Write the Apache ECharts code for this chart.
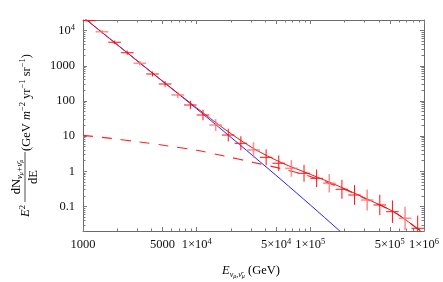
<!DOCTYPE html>
<html><head><meta charset="utf-8">
<script src="https://cdn.jsdelivr.net/npm/echarts@6/dist/echarts.min.js"></script>
<style>html,body{margin:0;padding:0;background:#fff}#c{width:443px;height:282px}</style>
</head><body><div id="c"></div>
<script>
// ---- data ----
const binEdges = [1000, 1292, 1668, 2154, 2783, 3594, 4642, 5995, 7743, 10000, 12915, 16681, 21544, 27826, 35938, 46416, 59948, 77426, 100000, 129155, 166810, 215443, 278256, 359381, 464159, 599484, 774264, 1000000];
const crossFlux = [19100, 9290, 4650, 2350, 1175, 583, 303, 148, 76.6, 39.8, 20.7, 10.7, 6.24, 4.03, 2.49, 1.69, 1.21, 0.875, 0.631, 0.455, 0.307, 0.211, 0.152, 0.110, 0.0708, 0.046, 0.0239];
const crossErrDex = [0.04, 0.045, 0.05, 0.06, 0.065, 0.07, 0.08, 0.09, 0.12, 0.15, 0.17, 0.18, 0.2, 0.22, 0.23, 0.22, 0.24, 0.24, 0.25, 0.26, 0.27, 0.28, 0.30, 0.29, 0.32, 0.33, 0.36];
const pinkBins = [1, 4, 7, 10, 13, 16, 19, 22, 25];

const lineEnergy = [1000, 1778, 3162, 5623, 10000, 17783, 31623, 56234, 100000, 177828, 316228, 562341, 1000000];
const convFlux   = [24270, 5400, 1202, 268, 59.7, 12.7, 2.67, 0.551, 0.110, 0.0212, 0.0040, 0.0008, 0.00015];
const promptFlux = [10.5, 8.6, 6.76, 5.25, 3.94, 2.69, 1.78, 1.175, 0.708, 0.355, 0.158, 0.0646, 0.0166];
const totalFlux  = [24280, 5409, 1209, 273, 63.6, 15.4, 4.45, 1.73, 0.818, 0.376, 0.162, 0.0654, 0.0166];

const xMajorTicks = [1000, 5000, 10000, 50000, 100000, 500000, 1000000];
const xTickLabels = ['1000', '5000', '1×10^4', '5×10^4', '1×10^5', '5×10^5', '1×10^6'];
const xMinorTicks = [2000, 3000, 4000, 6000, 7000, 8000, 9000, 20000, 30000, 40000, 60000, 70000, 80000, 90000, 200000, 300000, 400000, 600000, 700000, 800000, 900000];
const yMajorTicks = [0.1, 1, 10, 100, 1000, 10000];
const yTickLabels = ['0.1', '1', '10', '100', '1000', '10^4'];
const yMinorTicks = [0.02, 0.03, 0.04, 0.05, 0.06, 0.07, 0.08, 0.09, 0.2, 0.3, 0.4, 0.5, 0.6, 0.7, 0.8, 0.9, 2, 3, 4, 5, 6, 7, 8, 9, 20, 30, 40, 50, 60, 70, 80, 90, 200, 300, 400, 500, 600, 700, 800, 900, 2000, 3000, 4000, 5000, 6000, 7000, 8000, 9000, 20000];
const xRange = [1000, 1000000];
const yRange = [0.02, 20000];

// ---- build ----
const L = Math.log10;
const FONT = 'Liberation Serif';
const labelRich = {
  a: {fontFamily: FONT, fontSize: 12.5, lineHeight: 15, color: '#111', verticalAlign: 'middle'},
  s: {fontFamily: FONT, fontSize: 8.5, lineHeight: 7, color: '#111', verticalAlign: 'top'}
};
function richLabel(s) {
  const m = s.match(/^(.*)\^(.*)$/);
  return m ? '{a|' + m[1] + '}{s|' + m[2] + '}' : '{a|' + s + '}';
}
function lookup(v, ticks, labels) {
  for (let i = 0; i < ticks.length; i++) if (Math.abs(L(ticks[i]) - v) < 1e-6) return richLabel(labels[i]);
  return '';
}
const xMajLog = xMajorTicks.map(L), xMinLog = xMinorTicks.map(L);
const yMajLog = yMajorTicks.map(L), yMinLog = yMinorTicks.map(L);

function axis(dim, pos, ticks, len, showLine, labels) {
  const rng = dim === 'x' ? xRange : yRange;
  return {
    type: 'value', min: L(rng[0]), max: L(rng[1]), position: pos,
    axisLine: {show: showLine, onZero: false, lineStyle: {color: '#6a6a6a', width: 1}},
    axisTick: {show: true, inside: true, length: len, customValues: ticks, lineStyle: {color: '#7a7a7a', width: 1}},
    axisLabel: labels ? {
      show: true, customValues: ticks, margin: dim === 'x' ? 6 : 8,
      formatter: (v) => lookup(v, dim === 'x' ? xMajorTicks : yMajorTicks, labels),
      rich: labelRich
    } : {show: false},
    splitLine: {show: false}
  };
}

const crossData = binEdges.slice(0, -1).map((e, i) => {
  const lo = L(e), hi = L(binEdges[i + 1]), y = L(crossFlux[i]);
  return [lo, hi, y, y - crossErrDex[i], y + crossErrDex[i], i];
});
function crossSeries(data, color, width) {
  return {
    type: 'custom', xAxisIndex: 0, yAxisIndex: 0, clip: true, z: 4,
    data: data,
    renderItem: (params, api) => {
      const xl = api.value(0), xh = api.value(1), y = api.value(2), yl = api.value(3), yh = api.value(4);
      const xc = (xl + xh) / 2;
      const a = api.coord([xl, y]), b = api.coord([xh, y]), t = api.coord([xc, yh]), d = api.coord([xc, yl]);
      return {type: 'group', children: [
        {type: 'line', shape: {x1: a[0], y1: a[1], x2: b[0], y2: b[1]}, style: {stroke: color, lineWidth: width}},
        {type: 'line', shape: {x1: t[0], y1: t[1], x2: d[0], y2: d[1]}, style: {stroke: color, lineWidth: width}}
      ]};
    }
  };
}
const toLine = (arr) => lineEnergy.map((e, i) => [L(e), L(arr[i])]);

const chart = echarts.init(document.getElementById('c'), null, {renderer: 'canvas'});
chart.setOption({
  animation: false,
  backgroundColor: '#fff',
  grid: {left: 83, top: 20, width: 341, height: 211, containLabel: false},
  xAxis: [
    axis('x', 'bottom', xMajLog, 4, true, xTickLabels),
    axis('x', 'bottom', xMinLog, 2.5, false, null),
    axis('x', 'top', xMajLog, 4, true, null),
    axis('x', 'top', xMinLog, 2.5, false, null)
  ],
  yAxis: [
    axis('y', 'left', yMajLog, 4, true, yTickLabels),
    axis('y', 'left', yMinLog, 2.5, false, null),
    axis('y', 'right', yMajLog, 4, true, null),
    axis('y', 'right', yMinLog, 2.5, false, null)
  ],
  series: [
    {type: 'line', xAxisIndex: 0, yAxisIndex: 0, data: toLine(convFlux), smooth: 0.3, symbol: 'none', z: 2,
      lineStyle: {color: '#2424ff', width: 1}},
    {type: 'line', xAxisIndex: 0, yAxisIndex: 0, data: toLine(promptFlux), smooth: 0.3, symbol: 'none', z: 2,
      lineStyle: {color: '#ff2020', width: 1.1, type: [10, 9]}},
    crossSeries(crossData.filter(d => pinkBins.indexOf(d[5]) >= 0), 'rgba(255,110,110,0.75)', 1.6),
    crossSeries(crossData.filter(d => pinkBins.indexOf(d[5]) < 0), '#ff1010', 1),
    {type: 'line', xAxisIndex: 0, yAxisIndex: 0, data: toLine(totalFlux), smooth: 0.3, symbol: 'none', z: 3,
      lineStyle: {color: '#ee1111', width: 1}}
  ],
  graphic: [
    {type: 'text', x: 251, y: 271,
      style: {
        text: '{i|E}{s|ν}{ss|μ}{s|,ν̄}{ss|μ}{a| (GeV)}',
        align: 'center', textAlign: 'center', verticalAlign: 'middle', textVerticalAlign: 'middle',
        rich: {
          i: {fontFamily: FONT, fontStyle: 'italic', fontSize: 12.5, lineHeight: 16, verticalAlign: 'middle', color: '#111'},
          a: {fontFamily: FONT, fontSize: 12.5, lineHeight: 16, verticalAlign: 'middle', color: '#111'},
          s: {fontFamily: FONT, fontStyle: 'italic', fontSize: 8, lineHeight: 9, verticalAlign: 'bottom', color: '#111'},
          ss: {fontFamily: FONT, fontStyle: 'italic', fontSize: 6, lineHeight: 5, verticalAlign: 'bottom', color: '#111'}
        }
      }},
    {type: 'group', x: 25, y: 217, rotation: Math.PI / 2, children: [
      {type: 'text', x: 0, y: 1, style: {
        text: '{i|E}{sup|2}', align: 'left', textAlign: 'left', verticalAlign: 'middle', textVerticalAlign: 'middle',
        rich: {
          i: {fontFamily: FONT, fontStyle: 'italic', fontSize: 12.5, lineHeight: 16, verticalAlign: 'middle', color: '#111'},
          sup: {fontFamily: FONT, fontSize: 8.5, lineHeight: 8, verticalAlign: 'top', color: '#111'}
        }}},
      {type: 'line', shape: {x1: 15, y1: 0, x2: 65, y2: 0}, style: {stroke: '#222', lineWidth: 0.8}},
      {type: 'text', x: 40, y: -1, style: {
        text: '{a|dN}{s|ν}{ss|μ}{s|+ν̄}{ss|μ}', align: 'center', textAlign: 'center', verticalAlign: 'bottom', textVerticalAlign: 'bottom',
        rich: {
          a: {fontFamily: FONT, fontSize: 12.5, lineHeight: 14, verticalAlign: 'top', color: '#111'},
          s: {fontFamily: FONT, fontStyle: 'italic', fontSize: 8.5, lineHeight: 10, verticalAlign: 'bottom', color: '#111'},
          ss: {fontFamily: FONT, fontStyle: 'italic', fontSize: 6, lineHeight: 6, verticalAlign: 'bottom', color: '#111'}
        }}},
      {type: 'text', x: 40, y: 2, style: {
        text: 'dE', font: '12.5px "Liberation Serif"', fill: '#111',
        align: 'center', textAlign: 'center', verticalAlign: 'top', textVerticalAlign: 'top'}},
      {type: 'text', x: 66, y: 1.5, style: {
        text: '{a|(GeV }{i|m}{sup|−2}{a| yr}{sup|−1}{a| sr}{sup|−1}{a|)}',
        align: 'left', textAlign: 'left', verticalAlign: 'middle', textVerticalAlign: 'middle',
        rich: {
          a: {fontFamily: FONT, fontSize: 12.5, lineHeight: 16, verticalAlign: 'middle', color: '#111'},
          i: {fontFamily: FONT, fontStyle: 'italic', fontSize: 12.5, lineHeight: 16, verticalAlign: 'middle', color: '#111'},
          sup: {fontFamily: FONT, fontSize: 8.5, lineHeight: 8, verticalAlign: 'top', color: '#111'}
        }}}
    ]}
  ]
});
</script>
</body></html>
